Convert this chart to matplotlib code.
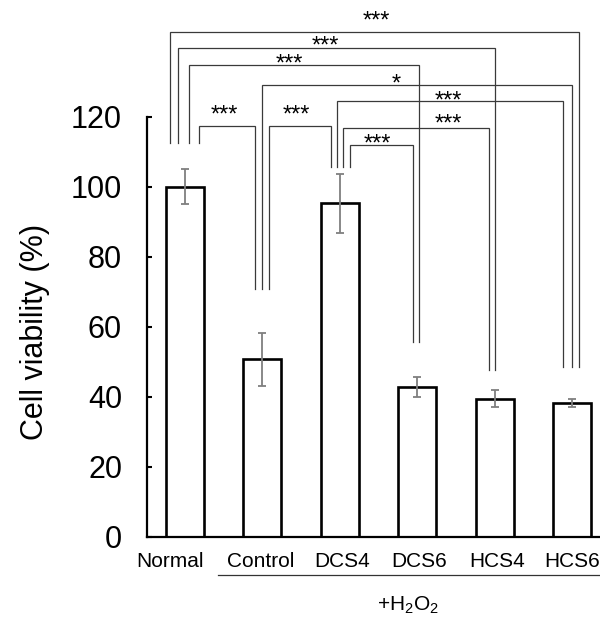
import matplotlib
matplotlib.use("Agg")
import matplotlib.pyplot as plt
import matplotlib.transforms as mtransforms

plt.rcParams['font.family'] = ['Liberation Sans', 'DejaVu Sans']
plt.rcParams['mathtext.fontset'] = 'custom'
plt.rcParams['mathtext.rm'] = 'Liberation Sans'
plt.rcParams['mathtext.it'] = 'Liberation Sans:italic'
plt.rcParams['mathtext.default'] = 'rm'

# ---- data ----
categories = ['Normal', 'Control', 'DCS4', 'DCS6', 'HCS4', 'HCS6']
means = [100.0, 50.8, 95.3, 42.8, 39.5, 38.3]
sds = [5.0, 7.6, 8.5, 2.8, 2.4, 1.1]
y_ticks = [0, 20, 40, 60, 80, 100, 120]
group_label = '+H$_2$O$_2$'

# significance comparisons (group i, group j, label)
comparisons = [(0, 5, '***'), (0, 4, '***'), (0, 3, '***'), (1, 5, '*'),
               (2, 5, '***'), (2, 4, '***'), (2, 3, '***'), (0, 1, '***'),
               (1, 2, '***')]

# ---- layout of the brackets ----
bracket_y = [144.4, 139.6, 134.8, 129.1, 124.7, 116.9, 111.9, 117.5, 117.4]
leg_offsets = [(-0.194, 0.094), (-0.087, 0.005), (0.056, 0.027),
               (-0.009, 0.004), (-0.032, -0.112), (0.045, -0.068),
               (0.132, -0.050), (0.185, -0.096), (0.085, -0.118)]
leg_bottom = [112.6, 70.9, 105.7, 55.7, 47.7, 48.6]
label_xy = [(2.468, 149.3), (1.809, 142.2), (1.348, 137.2), (2.726, 131.5),
            (3.398, 126.5), (3.398, 119.9), (2.490, 114.4), (0.504, 122.5),
            (1.443, 122.5)]
# horizontal shift (points) of each category label
label_shift_pt = [-11, -1.5, 1.5, 1.5, 1.5, 0]

W, H = 600, 621
fig = plt.figure(figsize=(W / 100, H / 100), dpi=100)
ax = fig.add_axes([147 / W, 84 / H, 453 / W, 420 / H])

x = list(range(len(categories)))
ax.bar(x, means, width=0.49, color='white', edgecolor='black',
       linewidth=1.9, zorder=2)
ax.errorbar(x, means, yerr=sds, fmt='none', ecolor='#7f7f7f',
            elinewidth=1.3, capsize=3.2, capthick=1.3, zorder=3)

ax.set_xlim(-0.491, 5.362)
ax.set_ylim(0, 120)
ax.set_yticks(y_ticks)
ax.set_yticklabels([str(v) for v in y_ticks])
ax.set_xticks(x)
ax.set_xticklabels([])
ax.tick_params(axis='y', direction='in', length=3.6, width=1.5,
               labelsize=22, pad=18)
ax.tick_params(axis='x', length=0)
for xi, name, dx in zip(x, categories, label_shift_pt):
    tr = mtransforms.offset_copy(ax.get_xaxis_transform(), fig=fig,
                                 x=dx, y=-11, units='points')
    ax.text(xi, 0, name, ha='center', va='top', fontsize=15,
            transform=tr, clip_on=False)
for s in ['top', 'right']:
    ax.spines[s].set_visible(False)
ax.spines['left'].set_linewidth(1.6)
ax.spines['bottom'].set_linewidth(1.6)
ax.spines['left'].set_bounds(0, 120)

# significance brackets
fs_star = 17
lc = '#3a3a3a'
for k, (i, j, lab) in enumerate(comparisons):
    xl = i + leg_offsets[k][0]
    xr = j + leg_offsets[k][1]
    yb = bracket_y[k]
    ax.plot([xl, xl, xr, xr], [leg_bottom[i], yb, yb, leg_bottom[j]],
            color=lc, lw=0.9, clip_on=False, zorder=1,
            solid_joinstyle='miter')
    tr = mtransforms.offset_copy(ax.transData, fig=fig, x=0,
                                 y=-0.575 * fs_star, units='points')
    ax.text(label_xy[k][0], label_xy[k][1], lab, ha='center',
            va='baseline', fontsize=fs_star, transform=tr)

# treatment group line and label
ax.plot([0.426, 5.362], [-10.86, -10.86], color='#333333', lw=0.9,
        clip_on=False)
ax.text(2.88, -19.4, group_label, ha='center', va='center', fontsize=15,
        clip_on=False)

fig.text(35 / W, 1 - 332 / H, 'Cell viability (%)', rotation=90,
         ha='center', va='center', fontsize=22)

fig.savefig('out.png', dpi=100)
